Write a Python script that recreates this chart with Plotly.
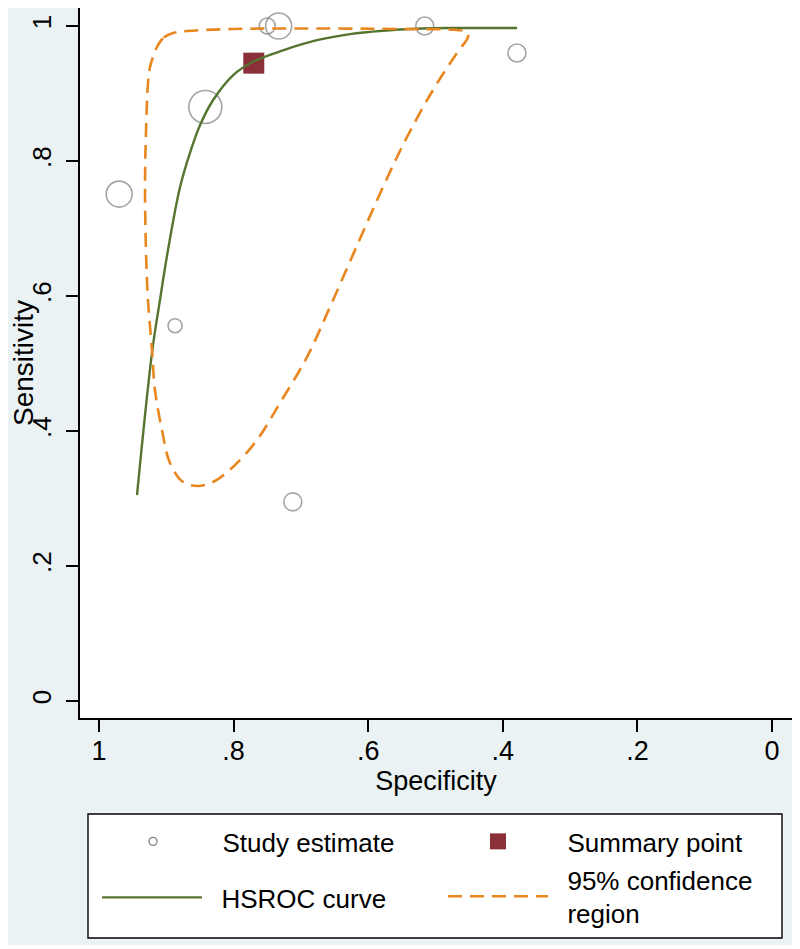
import plotly.graph_objects as go

# ---------------- data ----------------
study_spec = [0.970, 0.887, 0.842, 0.750, 0.733, 0.712, 0.516, 0.379]
study_sens = [0.751, 0.556, 0.880, 1.000, 1.000, 0.295, 1.000, 0.960]
study_weight = [26, 14, 33, 16, 26, 18, 18, 18]

summary_spec = [0.770]
summary_sens = [0.945]

hsroc_spec = [0.9435, 0.9212, 0.9094, 0.8975, 0.8796, 0.8648, 0.8499, 0.8306,
              0.8009, 0.7712, 0.7266, 0.6761, 0.6270, 0.5780, 0.5275, 0.4785, 0.3789]
hsroc_sens = [0.305, 0.516, 0.594, 0.668, 0.761, 0.812, 0.853, 0.890,
              0.927, 0.947, 0.964, 0.979, 0.988, 0.993, 0.996, 0.997, 0.997]

ci_spec = [0.8900, 0.9049, 0.9138, 0.9198, 0.9242, 0.9272, 0.9302, 0.9316, 0.9302,
           0.9272, 0.9212, 0.9168, 0.9064, 0.8945, 0.8752, 0.8529, 0.8306, 0.8009,
           0.7652, 0.7311, 0.6909, 0.6568, 0.6196, 0.5780, 0.5423, 0.5037, 0.4681,
           0.4517, 0.4532, 0.4681, 0.5527, 0.7013, 0.8009, 0.8692, 0.8900]
ci_sens = [0.9896, 0.982, 0.9689, 0.954, 0.9393, 0.9156, 0.8415, 0.7674, 0.668,
           0.594, 0.520, 0.4607, 0.4015, 0.3526, 0.3244, 0.3185, 0.3244, 0.3467,
           0.3867, 0.4415, 0.5096, 0.5837, 0.668, 0.7615, 0.8356, 0.9052, 0.960,
           0.9837, 0.9911, 0.9941, 0.9956, 0.9963, 0.9956, 0.9926, 0.9896]

tick_vals = [0, 0.2, 0.4, 0.6, 0.8, 1]
tick_text = ["0", ".2", ".4", ".6", ".8", "1"]

# ---------------- style ----------------
FONT = "Liberation Sans, Arial, Helvetica, sans-serif"
GREY = "#7f7f7f"
GREEN = "#55752f"
ORANGE = "#e8861f"
MAROON = "#8b2f39"
BG = "#eaf2f3"
PAD = "\u00a0\u00a0"

fig = go.Figure()

fig.add_trace(go.Scatter(
    x=study_spec, y=study_sens, mode="markers", name="Study estimate",
    showlegend=False,
    marker=dict(size=study_weight, sizemode="diameter", symbol="circle-open",
                color=GREY, line=dict(width=1.6, color=GREY))))
fig.add_trace(go.Scatter(
    x=[None], y=[None], mode="markers", name=PAD + "Study estimate", legend="legend",
    marker=dict(size=8, symbol="circle-open", color=GREY, line=dict(width=1.3, color=GREY))))
fig.add_trace(go.Scatter(
    x=summary_spec, y=summary_sens, mode="markers", name=PAD + "Summary point",
    legend="legend",
    marker=dict(size=21, symbol="square", color=MAROON, line=dict(width=0))))
fig.add_trace(go.Scatter(
    x=hsroc_spec, y=hsroc_sens, mode="lines", name=PAD + "HSROC curve", legend="legend2",
    line=dict(color=GREEN, width=2.4, shape="spline", smoothing=1.0)))
fig.add_trace(go.Scatter(
    x=ci_spec, y=ci_sens, mode="lines", name=PAD + "95% confidence<br>" + PAD + "region",
    legend="legend3",
    line=dict(color=ORANGE, width=2.6, dash="14px,8px", shape="spline", smoothing=1.0)))

legend_common = dict(
    orientation="h", xanchor="left", yanchor="top",
    bgcolor="rgba(0,0,0,0)", borderwidth=0,
    font=dict(family=FONT, size=26), itemwidth=100, entrywidth=230,
    itemclick=False, itemdoubleclick=False,
)

fig.update_layout(
    width=800, height=949,
    margin=dict(l=72, r=16, t=0, b=239, autoexpand=False),
    paper_bgcolor="white", plot_bgcolor="white",
    font=dict(family=FONT, size=26, color="black"),
    shapes=[
        dict(type="rect", xref="paper", yref="paper", x0=-0.1011, x1=1.0,
             y0=-0.3197, y1=1.0, fillcolor=BG, line=dict(width=0), layer="below"),
        dict(type="rect", xref="paper", yref="paper", x0=0, x1=1.0,
             y0=0, y1=1.0, fillcolor="white", line=dict(width=0), layer="below"),
        dict(type="rect", xref="paper", yref="paper", x0=0.01124, x1=0.98596,
             y0=-0.30986, y1=-0.13521, fillcolor="white",
             line=dict(width=1.4, color="black"), layer="below"),
    ],
    legend=dict(x=0.0253, y=-0.1408, **legend_common),
    legend2=dict(x=0.0239, y=-0.2197, **legend_common),
    legend3=dict(x=0.5098, y=-0.1944, **legend_common),
    xaxis=dict(
        range=[1.0282, -0.0297], tickvals=tick_vals, ticktext=tick_text, automargin=False,
        showgrid=False, zeroline=False, showline=True, linecolor="black", linewidth=1.6,
        ticks="outside", ticklen=12, tickwidth=1.5, tickcolor="black", ticklabelstandoff=-4,
        tickfont=dict(size=27), title=dict(text="Specificity", font=dict(size=27), standoff=0),
    ),
    yaxis=dict(
        range=[-0.0252, 1.0267], tickvals=tick_vals, ticktext=tick_text, automargin=False,
        showgrid=False, zeroline=False, showline=True, linecolor="black", linewidth=1.6,
        ticks="outside", ticklen=12, tickwidth=1.5, tickcolor="black", tickangle=-90,
        ticklabelstandoff=5,
        tickfont=dict(size=26), title=dict(text="Sensitivity", font=dict(size=28), standoff=0),
    ),
)

fig.write_html("out.html")
